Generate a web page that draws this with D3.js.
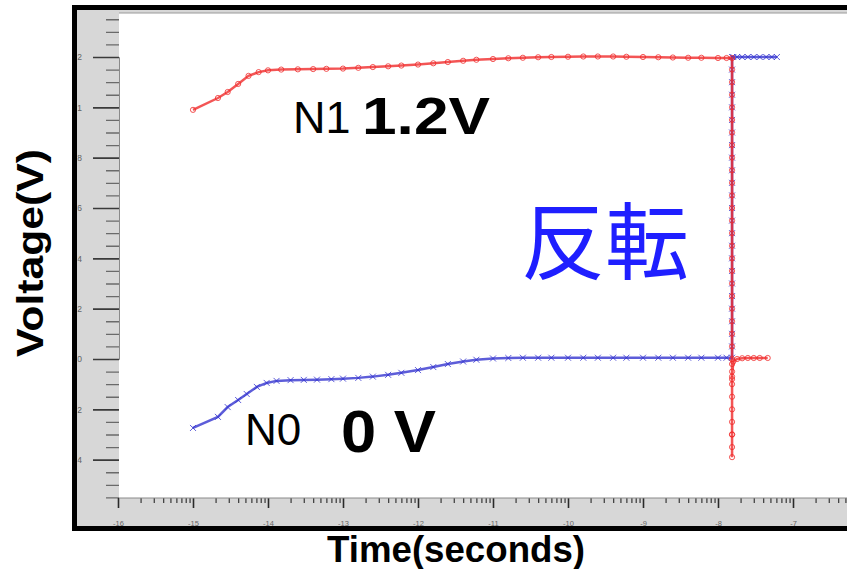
<!DOCTYPE html>
<html><head><meta charset="utf-8">
<script src="https://cdn.jsdelivr.net/npm/d3@7/dist/d3.min.js"></script>
<style>html,body{margin:0;padding:0;background:#fff;}svg{display:block;}</style>
</head><body>
<svg id="c" width="847" height="569"></svg>
<script>
// ---- data ----
const n1Time = [1e-15, 2.15e-15, 2.9e-15, 4.0e-15, 5.5e-15, 7.5e-15, 1e-14, 1.5e-14, 2.5e-14, 4e-14, 6e-14, 1e-13, 1.6e-13, 2.5e-13, 4e-13, 6e-13, 1e-12, 1.6e-12, 2.5e-12, 4e-12, 6e-12, 1e-11, 1.6e-11, 2.5e-11, 4e-11, 6e-11, 1e-10, 1.6e-10, 2.5e-10, 4e-10, 6e-10, 1e-9, 1.6e-9, 2.5e-9, 4e-9, 6e-9, 1e-8, 1.3e-8,
  1.54e-8, 1.54e-8, 1.54e-8, 1.54e-8, 1.54e-8, 1.54e-8, 1.54e-8, 1.54e-8, 1.54e-8, 1.54e-8, 1.54e-8, 1.54e-8, 1.54e-8, 1.54e-8, 1.54e-8, 1.54e-8, 1.54e-8, 1.54e-8, 1.54e-8, 1.54e-8, 1.54e-8, 1.54e-8, 1.54e-8, 1.54e-8, 1.54e-8, 1.54e-8, 1.54e-8, 1.54e-8, 1.54e-8, 1.54e-8, 1.54e-8, 1.54e-8, 1.54e-8, 1.54e-8, 1.54e-8, 1.54e-8, 1.54e-8,
  1.6e-8, 1.8e-8, 2.1e-8, 2.5e-8, 3.0e-8, 3.6e-8, 4.6e-8];
const n1Volt = [0.99, 1.037, 1.061, 1.093, 1.125, 1.140, 1.147, 1.150, 1.151, 1.152, 1.153, 1.154, 1.157, 1.160, 1.163, 1.166, 1.170, 1.175, 1.180, 1.185, 1.189, 1.192, 1.195, 1.197, 1.199, 1.200, 1.201, 1.202, 1.202, 1.202, 1.201, 1.200, 1.199, 1.198, 1.197, 1.197, 1.196, 1.196,
  1.196, 1.15, 1.10, 1.05, 1.00, 0.95, 0.90, 0.85, 0.80, 0.75, 0.70, 0.65, 0.60, 0.55, 0.50, 0.45, 0.40, 0.35, 0.30, 0.25, 0.20, 0.15, 0.10, 0.05, 0.00, -0.05, -0.10, -0.15, -0.20, -0.25, -0.30, -0.35, -0.39, -0.30, -0.08, -0.02, -0.07,
  -0.01, 0.00, 0.003, 0.004, 0.004, 0.004, 0.004];

const n0Time = [1e-15, 2.15e-15, 2.9e-15, 4.0e-15, 5.2e-15, 7.1e-15, 9.6e-15, 1.3e-14, 2e-14, 3e-14, 4.5e-14, 7e-14, 1e-13, 1.6e-13, 2.5e-13, 4e-13, 6e-13, 1e-12, 1.6e-12, 2.5e-12, 4e-12, 6e-12, 1e-11, 1.6e-11, 2.5e-11, 4e-11, 6e-11, 1e-10, 1.6e-10, 2.5e-10, 4e-10, 6e-10, 1e-9, 1.6e-9, 2.5e-9, 4e-9, 6e-9, 1e-8, 1.3e-8,
  1.54e-8, 1.54e-8, 1.54e-8, 1.54e-8, 1.54e-8, 1.54e-8, 1.54e-8, 1.54e-8, 1.54e-8, 1.54e-8, 1.54e-8, 1.54e-8, 1.54e-8, 1.54e-8, 1.54e-8, 1.54e-8, 1.54e-8, 1.54e-8, 1.54e-8, 1.54e-8, 1.54e-8, 1.54e-8, 1.54e-8, 1.54e-8, 1.54e-8,
  1.6e-8, 1.8e-8, 2.1e-8, 2.5e-8, 3.0e-8, 3.6e-8, 4.4e-8, 5.2e-8, 6.1e-8];
const n0Volt = [-0.274, -0.230, -0.191, -0.163, -0.139, -0.111, -0.095, -0.087, -0.084, -0.083, -0.082, -0.080, -0.078, -0.075, -0.070, -0.063, -0.055, -0.044, -0.032, -0.020, -0.010, -0.003, 0.002, 0.004, 0.005, 0.005, 0.005, 0.005, 0.005, 0.005, 0.005, 0.005, 0.005, 0.005, 0.005, 0.005, 0.005, 0.005, 0.005,
  0.005, 0.05, 0.10, 0.15, 0.20, 0.25, 0.30, 0.35, 0.40, 0.45, 0.50, 0.55, 0.60, 0.65, 0.70, 0.75, 0.80, 0.85, 0.90, 0.95, 1.00, 1.05, 1.10, 1.15, 1.20,
  1.200, 1.200, 1.200, 1.200, 1.200, 1.200, 1.200, 1.200, 1.200];

const yTickValues = [1.2, 1.0, 0.8, 0.6, 0.4, 0.2, 0.0, -0.2, -0.4];
const yTickLabels = ["1.2", "1", ".8", ".6", ".4", ".2", "0", "-.2", "-.4"];
const yMinorValues = [1.35, 1.3, 1.25, 1.15, 1.1, 1.05, 0.95, 0.9, 0.85, 0.75, 0.7, 0.65, 0.55, 0.5, 0.45, 0.35, 0.3, 0.25, 0.15, 0.1, 0.05, -0.05, -0.1, -0.15, -0.25, -0.3, -0.35, -0.45, -0.5, -0.55];
const xDecades = [1e-16, 1e-15, 1e-14, 1e-13, 1e-12, 1e-11, 1e-10, 1e-9, 1e-8, 1e-7];
const xTickLabels = ["-16", "-15", "-14", "-13", "-12", "-11", "-10", "-9", "-8", "-7"];
const minorMult = [2, 3, 4, 5, 6, 7, 8, 9];

// ---- drawing ----
const svg = d3.select("#c");
const plotL = 119, plotT = 13, plotB = 498, W = 847;

const x = d3.scaleLog().domain([1e-16, 1e-7]).range([118, 793]);
const y = d3.scaleLinear().domain([0, 1.2]).range([359, 57]);

const defs = svg.append("defs");
defs.append("clipPath").attr("id", "frameClip").append("rect")
  .attr("x", 77.5).attr("y", 10).attr("width", W - 77.5).attr("height", 526 - 10);
defs.append("clipPath").attr("id", "plotClip").append("rect")
  .attr("x", plotL).attr("y", plotT).attr("width", W - plotL).attr("height", plotB - plotT);

// grey frame area
svg.append("rect").attr("x", 77).attr("y", 10).attr("width", W - 77).attr("height", 517).attr("fill", "#d7d7d7");
// white plot
svg.append("rect").attr("x", plotL).attr("y", plotT).attr("width", W - plotL).attr("height", plotB - plotT).attr("fill", "#ffffff");
svg.append("line").attr("x1", plotL).attr("x2", W).attr("y1", plotT).attr("y2", plotT).attr("stroke", "#9a9a9a").attr("stroke-width", 1);

const fg = svg.append("g").attr("clip-path", "url(#frameClip)");

// y axis (ticks pointing left into grey)
const yAxisMajor = d3.axisLeft(y).tickValues(yTickValues).tickSize(26)
  .tickFormat((d, i) => yTickLabels[i]);
const gy = fg.append("g").attr("transform", `translate(${plotL},0)`).call(yAxisMajor);
gy.select(".domain").attr("stroke", "#8a8a8a").attr("stroke-width", 1);
gy.selectAll(".tick line").attr("stroke", "#3a3a3a").attr("stroke-width", 1.6);
gy.selectAll(".tick text").attr("x", -37).attr("fill", "#666").style("font-family", "Liberation Sans, Arial, sans-serif").style("font-size", "9px");
const yAxisMinor = d3.axisLeft(y).tickValues(yMinorValues).tickSize(13).tickFormat("");
const gym = fg.append("g").attr("transform", `translate(${plotL},0)`).call(yAxisMinor);
gym.select(".domain").remove();
gym.selectAll(".tick line").attr("stroke", "#6a6a6a").attr("stroke-width", 1.4);

// x axis (ticks pointing down into grey)
const xMinorValues = [];
xDecades.forEach(d => minorMult.forEach(m => { if (d * m <= 6e-7) xMinorValues.push(d * m); }));
const xAxisMajor = d3.axisBottom(x).tickValues(xDecades).tickSize(10)
  .tickFormat((d, i) => xTickLabels[i]);
const gx = fg.append("g").attr("transform", `translate(0,${plotB})`).call(xAxisMajor);
gx.select(".domain").remove();
gx.selectAll(".tick line").attr("stroke", "#2a2a2a").attr("stroke-width", 1.6);
gx.selectAll(".tick text").attr("y", 27.5).attr("dy", 0).attr("fill", "#666").style("font-family", "Liberation Sans, Arial, sans-serif").style("font-size", "7.5px");
const xAxisMinor = d3.axisBottom(x).tickValues(xMinorValues).tickSize(5).tickFormat("");
const gxm = fg.append("g").attr("transform", `translate(0,${plotB})`).call(xAxisMinor);
gxm.select(".domain").remove();
gxm.selectAll(".tick line").attr("stroke", "#444").attr("stroke-width", 1.3);
svg.append("line").attr("x1", plotL).attr("x2", W).attr("y1", plotB).attr("y2", plotB).attr("stroke", "#8a8a8a").attr("stroke-width", 1);

// series
const pg = svg.append("g").attr("clip-path", "url(#plotClip)");
const line = d3.line().x(d => x(d[0])).y(d => y(d[1]));
const n0 = n0Time.map((t, i) => [t, n0Volt[i]]);
const n1 = n1Time.map((t, i) => [t, n1Volt[i]]);

const blue = "#3434d0", red = "#f02a2a";
pg.append("path").datum(n0).attr("d", line).attr("fill", "none").attr("stroke", blue).attr("stroke-width", 2.5).attr("stroke-opacity", 0.8);
pg.append("g").selectAll("path").data(n0).join("path")
  .attr("transform", d => `translate(${x(d[0])},${y(d[1])})`)
  .attr("d", "M-3,-3L3,3M-3,3L3,-3")
  .attr("stroke", blue).attr("stroke-width", 1).attr("fill", "none").attr("stroke-opacity", 0.8);

pg.append("path").datum(n1).attr("d", line).attr("fill", "none").attr("stroke", red).attr("stroke-width", 2.5).attr("stroke-opacity", 0.8);
pg.append("g").selectAll("circle").data(n1).join("circle")
  .attr("cx", d => x(d[0])).attr("cy", d => y(d[1])).attr("r", 2.6)
  .attr("fill", "none").attr("stroke", red).attr("stroke-width", 1).attr("stroke-opacity", 0.8);

// black frame
svg.append("rect").attr("x", 72).attr("y", 5).attr("width", 5).attr("height", 526).attr("fill", "#000");
svg.append("rect").attr("x", 72).attr("y", 5).attr("width", W - 72).attr("height", 5).attr("fill", "#000");
svg.append("rect").attr("x", 72).attr("y", 526).attr("width", W - 72).attr("height", 5).attr("fill", "#000");

// annotations
const sans = "Liberation Sans, Arial, Helvetica, sans-serif";
svg.append("text").attr("x", 293).attr("y", 133).text("N1")
  .style("font-family", sans).style("font-size", "45px").attr("fill", "#000");
svg.append("text").attr("x", 362).attr("y", 134).text("1.2V")
  .style("font-family", sans).style("font-size", "52px").style("font-weight", "bold").attr("fill", "#000")
  .attr("textLength", 128).attr("lengthAdjust", "spacingAndGlyphs");
svg.append("text").attr("x", 245).attr("y", 445).text("N0")
  .style("font-family", sans).style("font-size", "44px").attr("fill", "#000");
svg.append("text").attr("x", 341).attr("y", 452).text("0 V")
  .style("font-family", sans).style("font-size", "60px").style("font-weight", "bold").attr("fill", "#000")
  .attr("textLength", 95).attr("lengthAdjust", "spacingAndGlyphs");
svg.append("text").attr("x", 521).attr("y", 273).text("反転")
  .style("font-family", "Noto Sans CJK JP, sans-serif").style("font-size", "84px").attr("fill", "#1f1fff");

// axis titles
svg.append("text").attr("x", 456).attr("y", 562).attr("text-anchor", "middle").text("Time(seconds)")
  .style("font-family", sans).style("font-size", "36px").style("font-weight", "bold").attr("fill", "#000")
  .attr("textLength", 258).attr("lengthAdjust", "spacingAndGlyphs");
svg.append("text").attr("transform", "translate(43,253) rotate(-90)").attr("text-anchor", "middle").text("Voltage(V)")
  .style("font-family", sans).style("font-size", "36px").style("font-weight", "bold").attr("fill", "#000")
  .attr("textLength", 208).attr("lengthAdjust", "spacingAndGlyphs");
</script>
</body></html>
